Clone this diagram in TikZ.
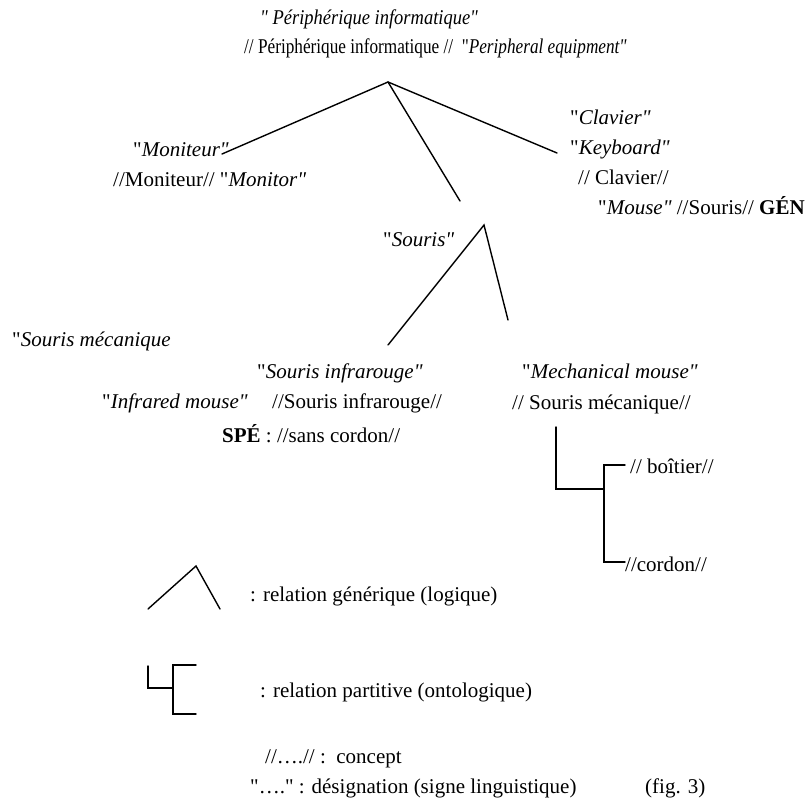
\documentclass[tikz,border=0pt]{standalone}
\usepackage{graphicx}
\usepackage{fontspec}
\setmainfont{Liberation Serif}[Ligatures=TeXOff]
\begin{document}
\begin{tikzpicture}[x=1pt,y=-1pt,
  txt/.style={anchor=base west,inner sep=0pt,font=\fontsize{21}{25}\selectfont},
  rel/.style={line width=1.4pt,line cap=round,line join=miter}]
\useasboundingbox (0,0) rectangle (808,799);
% texts
\node[txt] (t1) at (260,25) {\scalebox{0.88}[1]{\textit{" Périphérique informatique"}}};
\node[txt] (t2) at (244,54) {\scalebox{0.82}[1]{// Périphérique informatique //\ \ "\textit{Peripheral equipment"}}};
\node[txt] (mon1) at (133,157) {"\textit{Moniteur"}};
\node[txt] (mon2) at (113,187) {//Moniteur// "\textit{Monitor"}};
\node[txt] (cla1) at (570,125) {"\textit{Clavier"}};
\node[txt] (cla2) at (570,155) {"\textit{Keyboard"}};
\node[txt] (cla3) at (578,185) {// Clavier//};
\node[txt] (mou) at (598,215) {"\textit{Mouse"} //Souris// \textbf{GÉN}};
\node[txt] (sou) at (383,247) {"\textit{Souris"}};
\node[txt] (smec0) at (12,347) {"\textit{Souris mécanique}};
\node[txt] (sinf1) at (257,378) {"\textit{Souris infrarouge"}};
\node[txt] (sinf2) at (102,408) {"\textit{Infrared mouse"}};
\node[txt] (sinf3) at (272,408) {//Souris infrarouge//};
\node[txt] (spe) at (222,442) {\textbf{SPÉ} : //sans cordon//};
\node[txt] (smec1) at (522,378) {"\textit{Mechanical mouse"}};
\node[txt] (smec2) at (512,409) {// Souris mécanique//};
\node[txt] (boi) at (630,473) {// boîtier//};
\node[txt] (cor) at (625,571) {//cordon//};
\node[txt] (lg1) at (250,601) {: relation générique (logique)};
\node[txt] (lg2) at (260,697) {: relation partitive (ontologique)};
\node[txt] (lg3) at (265,763) {//….// :\ \ concept};
\node[txt] (lg4) at (250,793) {"…." : désignation (signe linguistique)};
\node[txt] (fig) at (645,793) {(fig. 3)};
% tree coordinates
\coordinate (A) at (388,82);
\coordinate (Am) at (222,154);
\coordinate (As) at (460,201);
\coordinate (Ac) at (557,153);
\coordinate (S) at (484,225);
\coordinate (Si) at (388,345);
\coordinate (Sm) at (508,320);
\draw[rel] (Am) -- (A) -- (Ac);
\draw[rel] (A) -- (As);
\draw[rel] (Si) -- (S) -- (Sm);
% partitive
\coordinate (P0) at (556,427);
\coordinate (P1) at (556,489);
\coordinate (P2) at (604,489);
\coordinate (Pt) at (604,465);
\coordinate (Pb) at (604,562);
\coordinate (Ptb) at (625,465);
\coordinate (Pbc) at (625,562);
\draw[rel] (P0) -- (P1) -- (P2);
\draw[rel] (Ptb) -- (Pt) -- (Pb) -- (Pbc);
% legend
\coordinate (G1) at (148,609);
\coordinate (G2) at (196,566);
\coordinate (G3) at (220,609);
\draw[rel] (G1) -- (G2) -- (G3);
\coordinate (L0) at (148,666);
\coordinate (L1) at (148,688);
\coordinate (L2) at (173,688);
\coordinate (Lt) at (173,665);
\coordinate (Lb) at (173,714);
\coordinate (Ltr) at (196,665);
\coordinate (Lbr) at (196,714);
\draw[rel] (L0) -- (L1) -- (L2);
\draw[rel] (Ltr) -- (Lt) -- (Lb) -- (Lbr);
\end{tikzpicture}
\end{document}
